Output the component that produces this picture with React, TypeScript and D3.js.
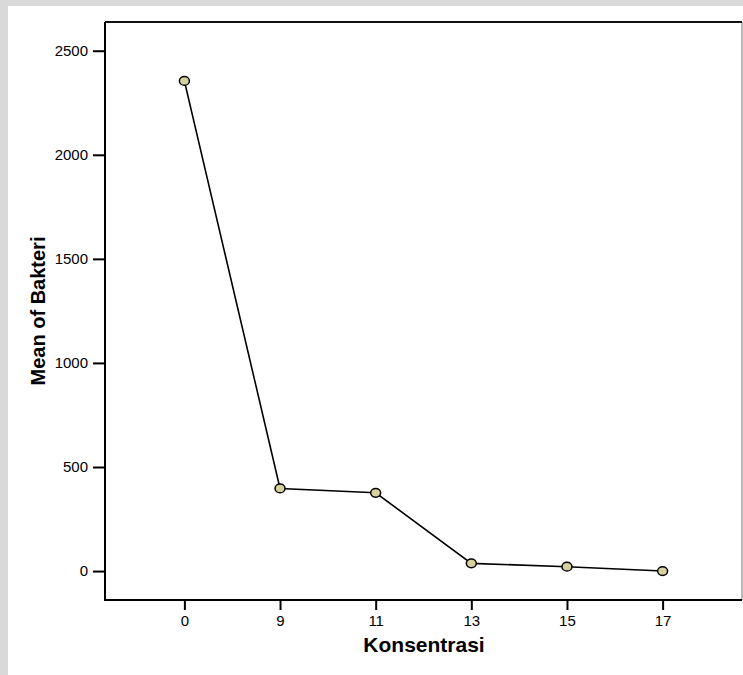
import React, { useRef, useEffect } from "react";
import * as d3 from "d3";

const konsentrasi = ["0", "9", "11", "13", "15", "17"];
const meanBakteri = [2355, 397, 376, 37, 21, 0];
const yTicks = [0, 500, 1000, 1500, 2000, 2500];

const App = () => {
  const svgRef = useRef<SVGSVGElement>(null);

  useEffect(() => {
    const w = 743;
    const h = 675;
    const left = 105;
    const right = 742;
    const top = 22;
    const bottom = 600;

    const svg = d3.select(svgRef.current);
    svg.selectAll("*").remove();

    // page background like the scanned figure
    svg.append("rect").attr("width", w).attr("height", h).attr("fill", "#d9d9d9");
    svg.append("rect").attr("x", 8).attr("y", 6).attr("width", w - 8).attr("height", h - 6).attr("fill", "#fff");

    const x = d3.scalePoint().domain(konsentrasi).range([left, right]).padding(0.83);
    const y = d3.scaleLinear().domain([-139, 2638]).range([bottom, top]);

    // frame
    svg.append("line").attr("x1", right).attr("x2", right).attr("y1", top).attr("y2", bottom)
      .attr("stroke", "#8a8a8a").attr("stroke-width", 1.2);
    svg.append("line").attr("x1", left).attr("x2", right).attr("y1", top).attr("y2", top)
      .attr("stroke", "#111").attr("stroke-width", 2);

    // y axis
    const yAxis = d3.axisLeft(y).tickValues(yTicks).tickFormat(d3.format("d"))
      .tickSize(12).tickPadding(5).tickSizeOuter(0);
    const gy = svg.append("g").attr("transform", `translate(${left},0)`).call(yAxis);
    gy.select(".domain").attr("stroke", "#000").attr("stroke-width", 2)
      .attr("d", `M0,${top}V${bottom + 1}`);
    gy.selectAll(".tick line").attr("stroke", "#000").attr("stroke-width", 2);
    gy.selectAll(".tick text").attr("font-family", "Liberation Sans, Arial, sans-serif")
      .attr("font-size", 15).attr("fill", "#000");

    // x axis
    const xAxis = d3.axisBottom(x).tickSize(10).tickPadding(5).tickSizeOuter(0);
    const gx = svg.append("g").attr("transform", `translate(0,${bottom})`).call(xAxis);
    gx.select(".domain").attr("stroke", "#000").attr("stroke-width", 2)
      .attr("d", `M${left - 1},0H${right}`);
    gx.selectAll(".tick line").attr("stroke", "#000").attr("stroke-width", 2);
    gx.selectAll(".tick text").attr("font-family", "Liberation Sans, Arial, sans-serif")
      .attr("font-size", 15).attr("fill", "#000");

    // axis titles
    svg.append("text").attr("x", 424).attr("y", 652).attr("text-anchor", "middle")
      .attr("font-family", "Liberation Sans, Arial, sans-serif").attr("font-weight", "bold")
      .attr("font-size", 21).text("Konsentrasi");
    svg.append("text").attr("transform", "translate(45,311) rotate(-90)").attr("text-anchor", "middle")
      .attr("font-family", "Liberation Sans, Arial, sans-serif").attr("font-weight", "bold")
      .attr("font-size", 20).text("Mean of Bakteri");

    // line + markers
    const data = konsentrasi.map((k, i) => ({ k, v: meanBakteri[i] }));
    const line = d3.line<{ k: string; v: number }>().x((d) => x(d.k)!).y((d) => y(d.v));
    svg.append("path").attr("d", line(data)).attr("fill", "none")
      .attr("stroke", "#000").attr("stroke-width", 1.6);
    svg.selectAll(".pt").data(data).enter().append("ellipse")
      .attr("cx", (d) => x(d.k)!).attr("cy", (d) => y(d.v))
      .attr("rx", 5).attr("ry", 4.4)
      .attr("fill", "#d6d29e").attr("stroke", "#000").attr("stroke-width", 1.5);
  }, []);

  return (
    <svg ref={svgRef} width={743} height={675}
      style={{ position: "absolute", left: 0, top: 0, display: "block" }} />
  );
};

export default App;
